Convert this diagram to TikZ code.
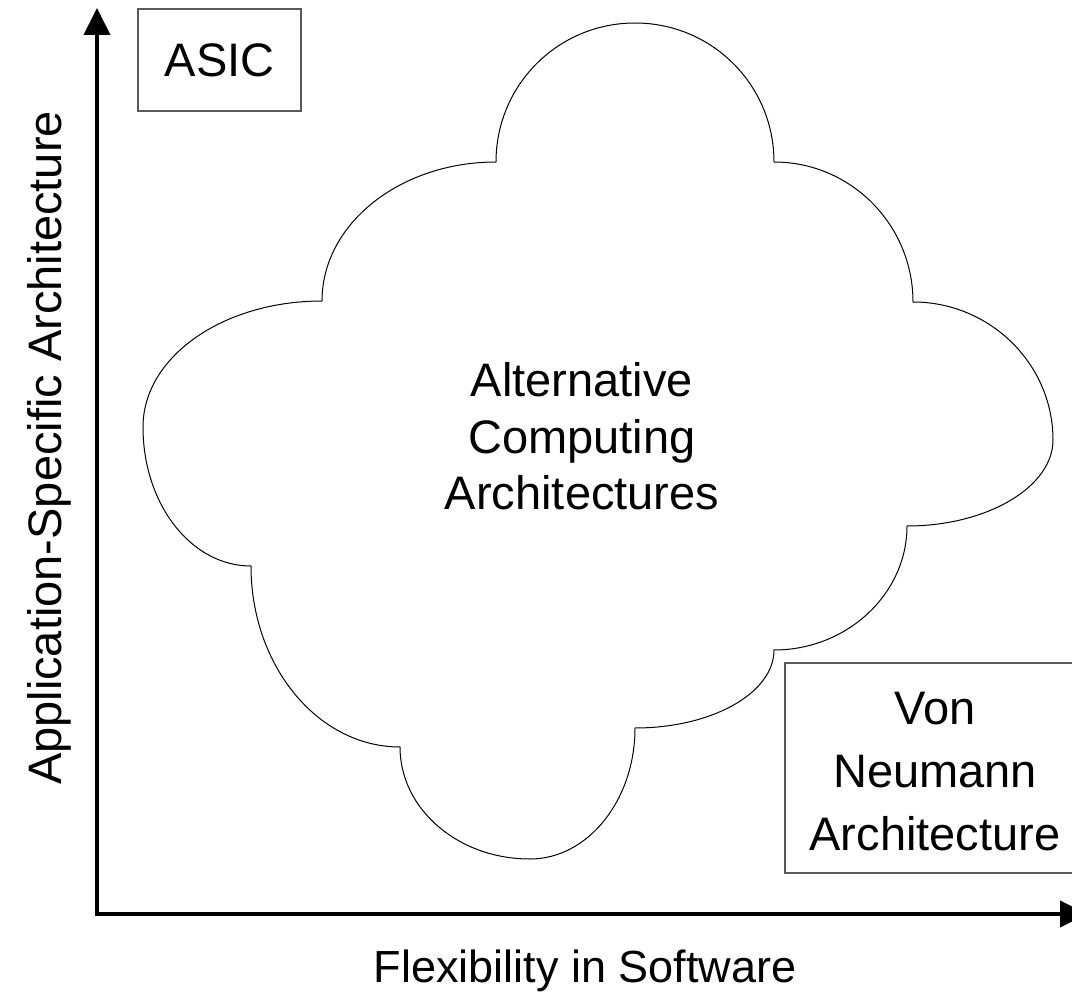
\documentclass[tikz,border=0pt]{standalone}
\usepackage{fontspec}
\setmainfont{Liberation Sans}
\usetikzlibrary{arrows.meta}
\tikzset{
  axisline/.style={line width=4pt, line join=miter,
    {Triangle[length=27pt,width=26pt]}-{Triangle[length=27pt,width=26pt]}},
  cloudline/.style={draw=black, line width=1pt, line join=miter},
  framebox/.style={draw=black!65, line width=1.1pt, rectangle, inner sep=0pt},
  bigtext/.style={font=\fontsize{47}{56.5}\selectfont, align=center, inner sep=0pt},
}
\begin{document}
\begin{tikzpicture}[x=1pt, y=-1pt]
  \useasboundingbox (0,0) rectangle (1072,995);

  % axes
  \coordinate (ytip) at (97,8);
  \coordinate (origin) at (97,914);
  \coordinate (xtip) at (1087,914);
  \draw[axisline] (ytip) -- (origin) -- (xtip);

  % cloud outline
  \draw[cloudline] (322,301)
    .. controls (322,224) and (400,162) .. (496,162)
    .. controls (496,85) and (558,23) .. (635,23)
    .. controls (712,23) and (774,85) .. (774,162)
    .. controls (851,162) and (913,225) .. (913,302)
    .. controls (990,302) and (1053,364) .. (1053,440)
    .. controls (1053,487) and (987,526) .. (907,526)
    .. controls (907,594) and (847,650) .. (774,650)
    .. controls (774,693) and (712,728) .. (635,728)
    .. controls (635,800) and (588,859) .. (530,859)
    .. controls (458,859) and (400,809) .. (400,747)
    .. controls (318,747) and (251,666) .. (251,566)
    .. controls (191,566) and (143,504) .. (143,427)
    .. controls (143,357) and (223,301) .. (322,301) -- cycle;

  \node[bigtext] (alt) at (582,436.5)
    {Alternative\\Computing\\Architectures};

  % corner boxes
  \node[framebox, bigtext, minimum width=163pt, minimum height=102pt,
        text height=34pt, text depth=0pt] (asic) at (219.5,60) {ASIC};

  \node[framebox, minimum width=305pt, minimum height=210pt] (vnbox) at (937.5,768) {};
  \node[bigtext, font=\fontsize{47}{63}\selectfont] (vn) at (935,772)
    {Von\\Neumann\\Architecture};

  % axis labels
  \node[bigtext, font=\fontsize{45}{54}\selectfont, anchor=base] (xlabel) at (585,982)
    {Flexibility in Software};
  \node[bigtext, anchor=base, rotate=90] (ylabel) at (61,448)
    {Application-Specific Architecture};
\end{tikzpicture}
\end{document}
